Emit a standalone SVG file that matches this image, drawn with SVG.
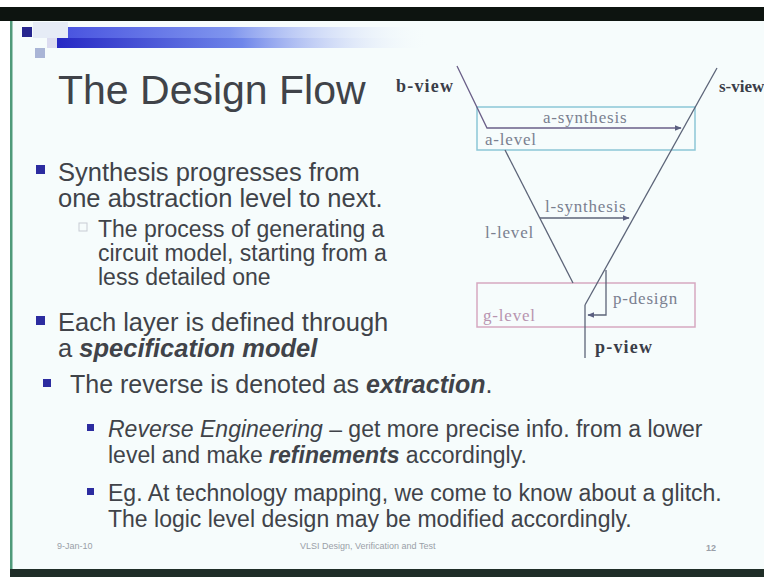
<svg xmlns="http://www.w3.org/2000/svg" width="764" height="577" viewBox="0 0 764 577">
<defs>
<linearGradient id="barTop" x1="0" y1="0" x2="1" y2="0">
<stop offset="0" stop-color="#4a55e0"/>
<stop offset="0.45" stop-color="#7f95ee"/>
<stop offset="1" stop-color="#f4fafc" stop-opacity="0"/>
</linearGradient>
<linearGradient id="barBot" x1="0" y1="0" x2="1" y2="0">
<stop offset="0" stop-color="#2628c4"/>
<stop offset="0.5" stop-color="#6f86ea"/>
<stop offset="1" stop-color="#f4fafc" stop-opacity="0"/>
</linearGradient>
<marker id="arr" viewBox="0 0 10 10" refX="9" refY="5" markerWidth="7" markerHeight="7" orient="auto" markerUnits="userSpaceOnUse">
<path d="M0,1 L10,5 L0,9 z" fill="#5a5f80"/>
</marker>
<style>
.txt{font-family:"Liberation Sans",Arial,sans-serif;fill:#404349}
.t1{font-size:25.5px}
.t1b{font-size:25px}
.t2{font-size:23px}
.lbl{font-family:"Liberation Serif","Times New Roman",serif;font-size:17px;fill:#7a8090;letter-spacing:0.8px}
.view{font-family:"Liberation Serif","Times New Roman",serif;font-size:18px;font-weight:bold;fill:#3a3d48;letter-spacing:1.2px}
.ln{stroke:#5c6478;stroke-width:1.3;fill:none}
.bul{fill:#2c2ca0}
.foot{font-family:"Liberation Sans",Arial,sans-serif;font-size:9px;fill:#9aa0a8}
</style>
</defs>
<rect x="0" y="0" width="764" height="577" fill="#ffffff"/>
<rect x="10" y="21" width="754" height="549" fill="#f6fcfc"/>
<rect x="0" y="7" width="764" height="14" fill="#0d1410"/>
<rect x="10" y="569" width="754" height="8" fill="#1f2e28"/>
<rect x="10" y="21" width="2.5" height="548" fill="#4f9a7a"/>
<g id="logo">
<rect x="33" y="22" width="35" height="16" fill="#e6ecf6"/>
<rect x="47" y="38" width="10" height="10" fill="#dcdcf0"/>
<rect x="35" y="48" width="10" height="10" fill="#a9b5d6"/>
<rect x="22" y="27" width="10" height="10" fill="#26268e"/>
<rect x="68" y="27" width="360" height="11" fill="url(#barTop)"/>
<rect x="57" y="38" width="371" height="10" fill="url(#barBot)"/>
</g>
<g id="title">
<text class="txt" x="58" y="104" font-size="41" fill="#35383d">The Design Flow</text>
</g>
<g id="a-level">
<rect x="477" y="107" width="218" height="43" fill="none" stroke="#8cc6d6" stroke-width="1.5"/>
<text class="lbl" x="485" y="145">a-level</text>
</g>
<g id="g-level">
<rect x="477" y="283" width="218" height="44" fill="none" stroke="#d6a8c0" stroke-width="1.5"/>
<text class="lbl" x="483" y="321" style="fill:#b894b0">g-level</text>
</g>
<g id="b-view"><text class="view" x="396" y="92">b-view</text></g>
<g id="s-view"><text class="view" x="719" y="92" style="font-size:17px;letter-spacing:0">s-view</text></g>
<g id="p-view"><text class="view" x="595" y="353">p-view</text></g>
<g id="l-level"><text class="lbl" x="485" y="238">l-level</text></g>
<g id="labels">
<text class="lbl" x="543" y="123">a-synthesis</text>
<text class="lbl" x="545" y="212">l-synthesis</text>
<text class="lbl" x="613" y="304">p-design</text>
</g>
<g id="connectors">
<polyline class="ln" points="457,66 487,128 681,128" marker-end="url(#arr)" style="stroke:#6a5f88"/>
<line class="ln" x1="717" y1="68" x2="585" y2="305"/>
<line class="ln" x1="585" y1="305" x2="585" y2="358"/>
<line class="ln" x1="505" y1="150" x2="573" y2="283"/>
<line class="ln" x1="540" y1="218" x2="629" y2="218" marker-end="url(#arr)"/>
<polyline class="ln" points="606,270 606,315 588,315" marker-end="url(#arr)"/>
</g>
<g id="bullets">
<rect class="bul" x="36" y="165" width="9" height="9"/>
<text class="txt t1" x="58" y="181">Synthesis progresses from</text>
<text class="txt t1" x="58" y="207">one abstraction level to next.</text>
<rect x="79" y="223" width="8" height="8" fill="none" stroke="#c8ccd4" stroke-width="1"/>
<text class="txt t2" x="98" y="237">The process of generating a</text>
<text class="txt t2" x="98" y="261">circuit model, starting from a</text>
<text class="txt t2" x="98" y="285">less detailed one</text>
<rect class="bul" x="36" y="316" width="9" height="9"/>
<text class="txt t1" x="58" y="331">Each layer is defined through</text>
<text class="txt t1" x="58" y="357">a <tspan font-weight="bold" font-style="italic">specification model</tspan></text>
<rect class="bul" x="43" y="379" width="8" height="8"/>
<text class="txt t1b" x="70" y="393">The reverse is denoted as <tspan font-weight="bold" font-style="italic">extraction</tspan>.</text>
<rect class="bul" x="87" y="424" width="7" height="7"/>
<text class="txt t2" x="108" y="437"><tspan font-style="italic">Reverse Engineering</tspan> – get more precise info. from a lower</text>
<text class="txt t2" x="108" y="463">level and make <tspan font-weight="bold" font-style="italic">refinements</tspan> accordingly.</text>
<rect class="bul" x="87" y="488" width="7" height="7"/>
<text class="txt t2" x="108" y="501">Eg. At technology mapping, we come to know about a glitch.</text>
<text class="txt t2" x="108" y="527">The logic level design may be modified accordingly.</text>
</g>
<g id="footer">
<text class="foot" x="57" y="549">9-Jan-10</text>
<text class="foot" x="300" y="549">VLSI Design, Verification and Test</text>
<text class="foot" x="706" y="551" font-weight="bold" fill="#555a60" font-size="10">12</text>
</g>
</svg>
